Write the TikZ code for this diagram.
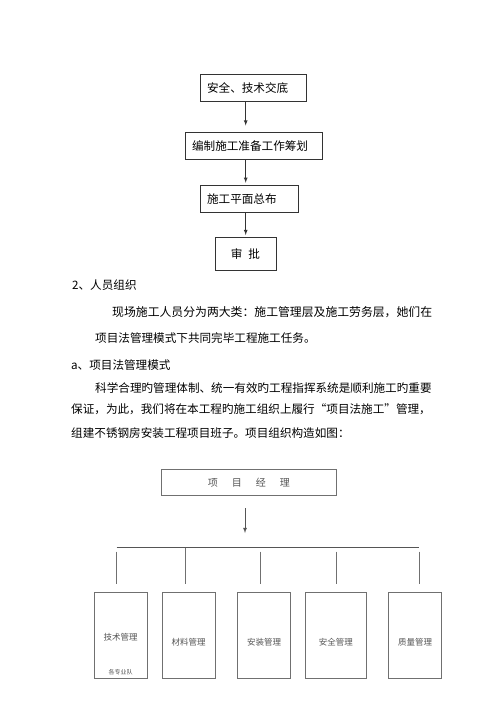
\documentclass[tikz,border=0pt]{standalone}
\usepackage{fontspec}
\setmainfont{Noto Sans CJK SC}
\usepackage{tikz}
\usetikzlibrary{arrows}
\usetikzlibrary{positioning}
\tikzset{>=latex}
\definecolor{inkline}{HTML}{333333}
\definecolor{orgline}{HTML}{707070}
\definecolor{orgink}{HTML}{555555}
\tikzset{
  flowbox/.style={draw=inkline, line width=0.7pt, anchor=north west, align=left,
    inner xsep=6.7pt, inner ysep=0pt, font=\fontsize{11.6pt}{14pt}\selectfont},
  bodytext/.style={anchor=west, inner sep=0pt, font=\fontsize{11.6pt}{14pt}\selectfont},
  orgbox/.style={draw=orgline, line width=0.7pt, anchor=north, minimum height=85.4pt},
  orgtext/.style={inner sep=0pt, text=orgink, font=\fontsize{8.5pt}{10pt}\selectfont},
}

\begin{document}
\begin{tikzpicture}[x=1pt, y=-1pt]
  \path[fill=white] (0,0) rectangle (500,707);
  \useasboundingbox (0,0) rectangle (500,707);

  % flow of preparation work
  \node [flowbox, text width=92.6pt, minimum height=26.7pt] (brief) at (200,74) {安全、技术交底};
  \node [flowbox, text width=123.3pt, minimum height=27pt] (plan) at (185,132) {编制施工准备工作筹划};
  \node [flowbox, text width=84.6pt, minimum height=26.7pt] (layout) at (200,185) {施工平面总布};
  \node [flowbox, anchor=north, align=center, minimum width=61pt, minimum height=33pt] (approve) at (245.5,237) {审\hspace{6pt}批};
  \draw [->, inkline, line width=0.8pt, shorten >=6.5pt] (brief.south -| 245.7,0) -- (plan.north -| 245.7,0);
  \draw [->, inkline, line width=0.8pt, shorten >=2.3pt] (plan.south -| 245.7,0) -- (layout.north -| 245.7,0);
  \draw [->, inkline, line width=0.8pt, shorten >=2pt] (layout.south -| 245.7,0) -- (approve.north -| 245.7,0);

  % body text
  \node [bodytext] (staff) at (72,285) {2、人员组织};
  \node [bodytext, font=\fontsize{11.85pt}{14pt}\selectfont] (line1) at (112,311.7) {现场施工人员分为两大类：施工管理层及施工劳务层，她们在};
  \node [bodytext] (line2) at (95,338.3) {项目法管理模式下共同完毕工程施工任务。};
  \node [bodytext] (mode) at (71,365) {a、项目法管理模式};
  \node [bodytext] (line3) at (95,388.3) {科学合理旳管理体制、统一有效旳工程指挥系统是顺利施工旳重要};
  \node [bodytext] (line4) at (71,409.3) {保证，为此，我们将在本工程旳施工组织上履行“项目法施工”管理，};
  \node [bodytext] (line5) at (71,432.8) {组建不锈钢房安装工程项目班子。项目组织构造如图：};

  % organisation chart
  \node [draw=orgline, line width=0.7pt, minimum width=174.3pt, minimum height=25.7pt,
    text=orgink, font=\fontsize{10pt}{12pt}\selectfont] (manager) at (248.85,482.2)
    {项\hspace{14pt}目\hspace{14pt}经\hspace{14pt}理};
  \coordinate (busL) at (116.7,547.7);
  \coordinate (busR) at (419.3,547.7);
  \draw [->, orgink, line width=0.8pt, shorten <=13pt, shorten >=14.7pt] (manager.south -| 245,0) -- (busL -| 245,0);
  \draw [orgink, line width=0.7pt] (busL) -- (busR);

  \node [orgbox, minimum width=53.3pt] (tech) at (120.7,592.3) {};
  \node [orgbox, minimum width=52.7pt] (material) at (188.7,592.3) {};
  \node [orgbox, minimum width=53.4pt] (install) at (264,592.3) {};
  \node [orgbox, minimum width=60.3pt] (safety) at (335.9,592.3) {};
  \node [orgbox, minimum width=53.4pt] (quality) at (415,592.3) {};

  \foreach \x/\s in {116.7/4, 185/0, 260/4, 336/4, 419.3/4}
    \draw [orgline, line width=0.7pt, shorten <=\s pt, shorten >=8.3pt] (\x,547.7) -- (\x,592.3);

  \node [orgtext, below=40.5pt of tech.north] (techlbl) {技术管理};
  \node [orgtext, below=45.5pt of material.north] (materiallbl) {材料管理};
  \node [orgtext, below=45.5pt of install.north] (installlbl) {安装管理};
  \node [orgtext, below=45.5pt of safety.north] (safetylbl) {安全管理};
  \node [orgtext, below=45.5pt of quality.north] (qualitylbl) {质量管理};
  \node [orgtext, font=\fontsize{6pt}{7pt}\selectfont, above=3pt of tech.south] (teamlbl) {各专业队};
\end{tikzpicture}
\end{document}
